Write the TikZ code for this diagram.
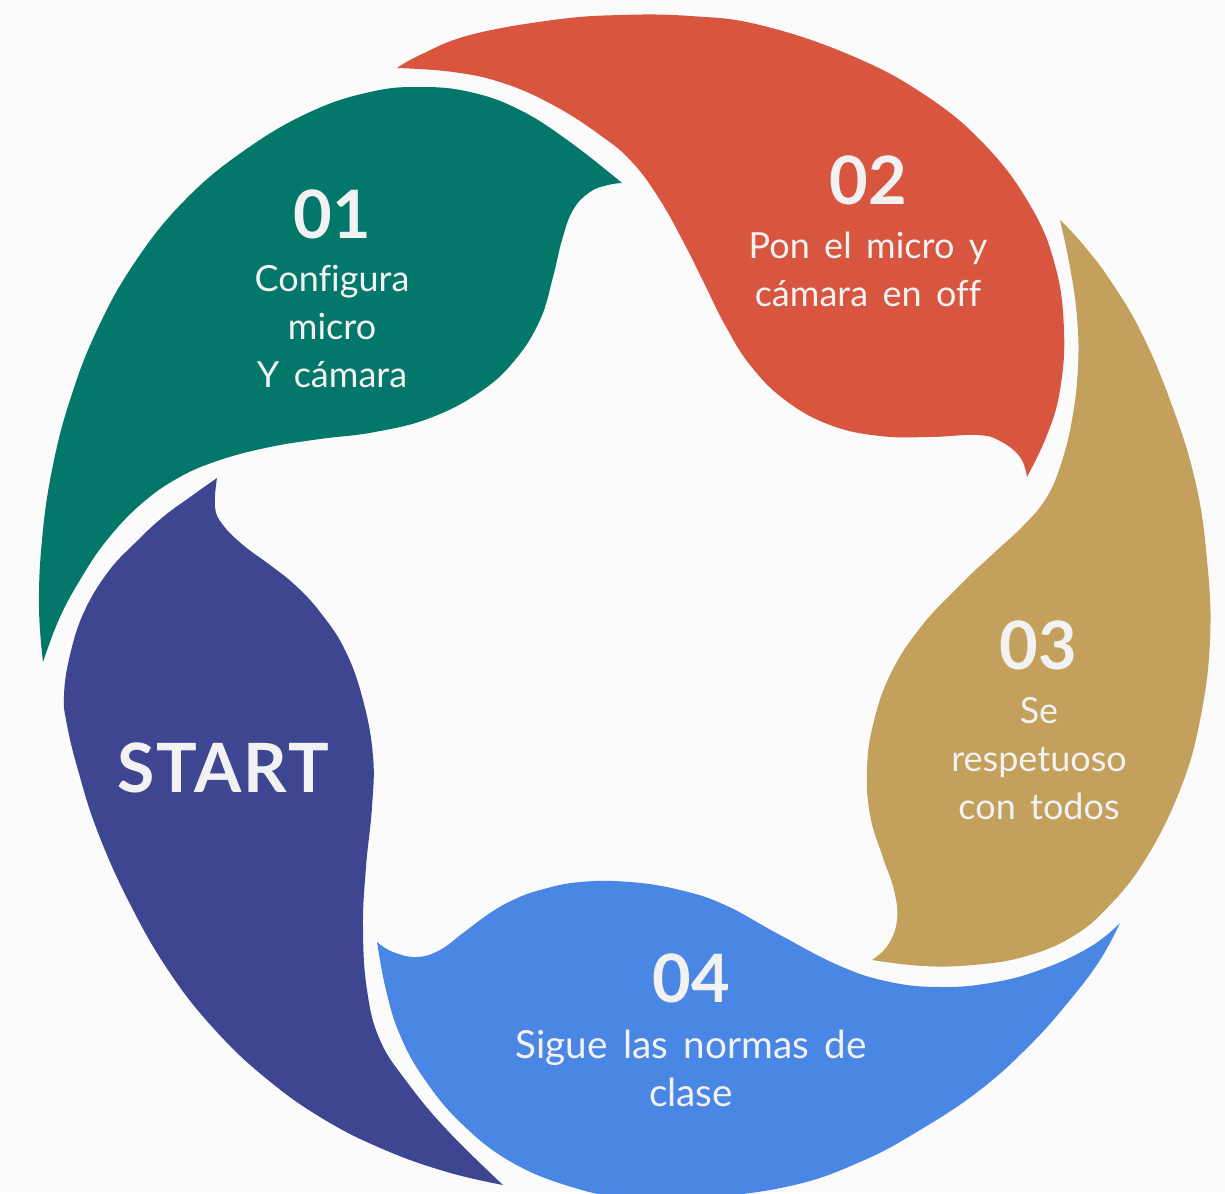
\documentclass[tikz,border=0pt]{standalone}
\usepackage{fontspec}
\setmainfont{Lato}[Ligatures=NoCommon]

\definecolor{bgpaper}{RGB}{251,251,251}
\definecolor{petalteal}{RGB}{3,120,106}
\definecolor{petalred}{RGB}{216,86,63}
\definecolor{petalgold}{RGB}{196,160,93}
\definecolor{petalblue}{RGB}{74,134,227}
\definecolor{petalpurple}{RGB}{62,70,146}
\definecolor{labelgrey}{RGB}{242,242,242}

\newcommand\steptextfont[1]{\fontsize{#1}{36}\selectfont\spaceskip 0.4em\relax}

\tikzset{
  petal/.style={draw=none,fill=#1},
  edge/.style={smooth,tension=0.7},
  numlabel/.style={font=\fontsize{50}{60}\selectfont\bfseries,text=labelgrey,inner sep=0.75pt},
  steplabel/.style={font=\steptextfont{#1},text=labelgrey,align=center,inner sep=0.75pt},
  steplabel/.default=27,
  startlabel/.style={font={\fontsize{51}{60}\selectfont\bfseries\addfontfeature{LetterSpace=3}},text=labelgrey,inner sep=0.75pt},
}

\begin{document}
\begin{tikzpicture}[x=0.75pt,y=0.75pt,yscale=-1,xscale=1]
\useasboundingbox (0,0) rectangle (1225,1193);
\fill [bgpaper] (0,0) rectangle (1225,1193);

%Shape: Petal 01
\fill [petal=petalteal] plot [edge] coordinates {(43,662) (39,607) (42,540) (52,470) (70,400) (97,330) (135,262) (185,200) (245,150) (310,112) (370,92) (420,87) (470,92) (520,110) (570,142) (622,183)}
  -- plot [edge] coordinates {(622,183) (608,185) (590,192) (573,210) (562,240) (553,277) (540,320) (515,360) (480,392) (430,418) (375,432) (320,439) (270,447) (220,460) (178,478) (140,505) (107,540) (83,575) (60,617) (43,662)} -- cycle ;
%Shape: Petal 02
\fill [petal=petalred] plot [edge] coordinates {(397,68) (420,55) (470,35) (553,20) (620,15) (690,16) (760,25) (850,55) (925,95) (985,145) (1030,205) (1055,265) (1064,330) (1060,390) (1047,435) (1027,477)}
  -- plot [edge] coordinates {(1027,477) (1020,457) (1000,441) (977,435) (930,437) (880,436) (830,425) (785,400) (750,365) (725,325) (705,285) (685,245) (660,200) (632,162) (600,135) (553,105) (503,83) (453,72) (397,68)} -- cycle ;
%Shape: Petal 03
\fill [petal=petalgold] plot [edge] coordinates {(1060,220) (1072,232) (1090,253) (1110,280) (1140,330) (1170,400) (1195,480) (1207,560) (1210,640) (1200,720) (1180,790) (1145,860) (1107,908) (1070,938) (1023,957) (973,965) (923,966) (872,960)}
  -- plot [edge] coordinates {(872,960) (888,945) (897,920) (894,890) (882,855) (870,815) (867,770) (873,725) (890,675) (920,628) (960,585) (995,552) (1022,527) (1045,500) (1060,467) (1072,420) (1078,367) (1077,317) (1070,267) (1060,220)} -- cycle ;
%Shape: Petal 04
\fill [petal=petalblue] plot [edge] coordinates {(377,942) (393,952) (417,957) (440,950) (463,933) (490,913) (513,900) (540,890) (580,882) (630,882) (680,890) (725,905) (780,935) (840,966) (890,982) (940,987) (990,983) (1040,970) (1090,947) (1120,923)}
  -- plot [edge] coordinates {(1120,923) (1100,960) (1070,1000) (1030,1045) (980,1090) (920,1130) (860,1162) (790,1186) (700,1198) (630,1198) (575,1188) (513,1163) (463,1125) (425,1080) (400,1035) (386,990) (377,942)} -- cycle ;
%Shape: Petal start
\fill [petal=petalpurple] plot [edge] coordinates {(503,1185) (447,1172) (385,1150) (325,1120) (268,1080) (215,1030) (168,970) (128,900) (97,830) (78,770) (67,725) (64,695) (70,655) (84,612) (108,572) (135,543) (163,517) (193,495) (217,478)}
  -- plot [edge] coordinates {(217,478) (215,507) (223,525) (243,545) (270,565) (295,585) (320,612) (345,650) (363,700) (373,756) (372,807) (366,867) (363,927) (367,990) (380,1040) (407,1082) (447,1130) (503,1185)} -- cycle ;

% Text Node
\node (num01) [numlabel] at (332,214) {01};
\node (txt01) [steplabel] at (332,327) {Configura\\micro\\Y cámara};
% Text Node
\node (num02) [numlabel] at (868,180) {02};
\node (txt02) [steplabel] at (868,269) {Pon el micro y\\cámara en off};
% Text Node
\node (num03) [numlabel] at (1038,645) {03};
\node (txt03) [steplabel] at (1039,759) {Se\\respetuoso\\con todos};
% Text Node
\node (num04) [numlabel] at (691,978) {04};
\node (txt04) [steplabel=29] at (691,1068) {Sigue las normas de\\clase};
% Text Node
\node (start) [startlabel] at (223,768) {START};

\end{tikzpicture}
\end{document}
